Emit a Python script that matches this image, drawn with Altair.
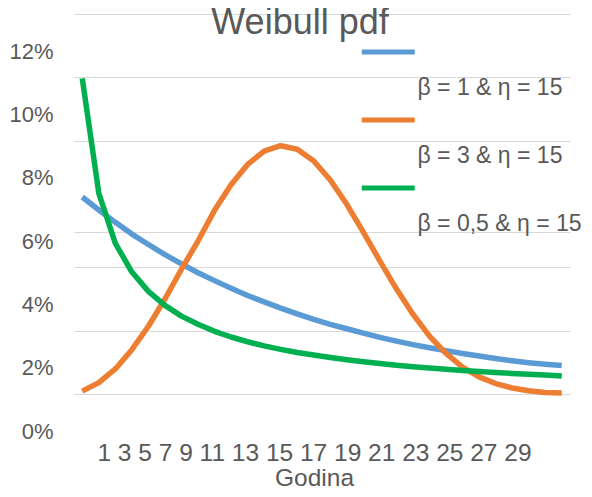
import altair as alt
import pandas as pd

# Hours (x categories)
godina = [1, 2, 3, 4, 5, 6, 7, 8, 9, 10, 11, 12, 13, 14, 15,
          16, 17, 18, 19, 20, 21, 22, 23, 24, 25, 26, 27, 28, 29, 30]

# Weibull pdf values, in percent
beta_1 = [6.22, 5.81, 5.42, 5.05, 4.72, 4.40, 4.11, 3.83, 3.58, 3.34,
          3.11, 2.91, 2.71, 2.53, 2.36, 2.20, 2.06, 1.92, 1.79, 1.67,
          1.56, 1.46, 1.37, 1.28, 1.20, 1.12, 1.05, 0.99, 0.94, 0.90]
beta_3 = [0.09, 0.36, 0.79, 1.40, 2.14, 3.00, 3.94, 4.83, 5.80, 6.61,
          7.25, 7.67, 7.84, 7.73, 7.36, 6.76, 5.99, 5.11, 4.20, 3.32,
          2.52, 1.83, 1.28, 0.85, 0.54, 0.33, 0.19, 0.10, 0.05, 0.03]
beta_05 = [9.97, 6.34, 4.76, 3.85, 3.24, 2.80, 2.46, 2.20, 1.98, 1.80,
           1.65, 1.52, 1.41, 1.31, 1.23, 1.15, 1.08, 1.02, 0.96, 0.91,
           0.86, 0.82, 0.78, 0.74, 0.71, 0.68, 0.65, 0.62, 0.60, 0.57]

series = ["β = 1 & η = 15", "β = 3 & η = 15", "β = 0,5 & η = 15"]
colors = ["#5B9BD5", "#ED7D31", "#00B050"]

x_tick_labels = [1, 3, 5, 7, 9, 11, 13, 15, 17, 19, 21, 23, 25, 27, 29]
y_label_values = [0, 0.02, 0.04, 0.06, 0.08, 0.10, 0.12]
grid_values = [0, 0.02, 0.04, 0.051, 0.08, 0.10, 0.12]

rows = []
for name, vals in zip(series, [beta_1, beta_3, beta_05]):
    for t, v in zip(godina, vals):
        rows.append({"Godina": t, "pdf": v / 100.0, "Serija": name})
df = pd.DataFrame(rows)

FONT = "Liberation Sans"
TXT = "#595959"

axis_values = sorted(set(y_label_values) | set(grid_values))
label_test = " || ".join(f"abs(datum.value - {v}) < 0.0005" for v in y_label_values)
grid_test = " || ".join(f"abs(datum.value - {v}) < 0.0005" for v in grid_values)

chart = alt.Chart(df).mark_line(strokeWidth=5.5, strokeJoin="round").encode(
    x=alt.X(
        "Godina:Q",
        scale=alt.Scale(domain=[0.5, 30.5], nice=False, zero=False),
        axis=alt.Axis(
            labels=False, ticks=False, domain=False, grid=False,
            title=[" ".join(str(v) for v in x_tick_labels), "Godina"],
            titleFont=FONT, titleFontSize=24.5, titleFontWeight="normal",
            titleColor=TXT, titlePadding=47, titleLineHeight=25,
            titleX=240,
        ),
    ),
    y=alt.Y(
        "pdf:Q",
        scale=alt.Scale(domain=[0, 0.12], nice=False),
        axis=alt.Axis(
            values=axis_values,
            labelExpr=f"({label_test}) ? format(datum.value, '.0%') : ''",
            labelFont=FONT, labelFontSize=22, labelColor=TXT,
            labelPadding=21, labelOffset=37,
            ticks=False, domain=False, title=None,
            gridColor="#D9D9D9", gridWidth=1.2,
            gridOpacity={"condition": {"test": grid_test, "value": 1}, "value": 0},
        ),
    ),
    color=alt.Color(
        "Serija:N",
        scale=alt.Scale(domain=series, range=colors),
        sort=series,
        legend=alt.Legend(
            orient="none", legendX=285, legendY=22, title=None,
            symbolType="M-1,0H3", symbolStrokeWidth=5, symbolSize=702,
            labelExpr="['', datum.label]", labelBaseline="top",
            labelFont=FONT, labelFontSize=23, labelLimit=400,
            labelColor=TXT, labelOffset=26.5, rowPadding=4,
        ),
    ),
).properties(
    width=496,
    height=380,
    title=alt.TitleParams(
        "Weibull pdf", font=FONT, fontSize=36, fontWeight="normal",
        color=TXT, anchor="middle", dx=-22, offset=-18, dy=38,
        baseline="alphabetic",
    ),
    autosize=alt.AutoSizeParams(type="none"),
    padding={"left": 66, "top": 6, "right": 14, "bottom": 94},
).configure_view(stroke=None)

chart.save("out.html", embed_options={"renderer": "svg", "actions": False})
